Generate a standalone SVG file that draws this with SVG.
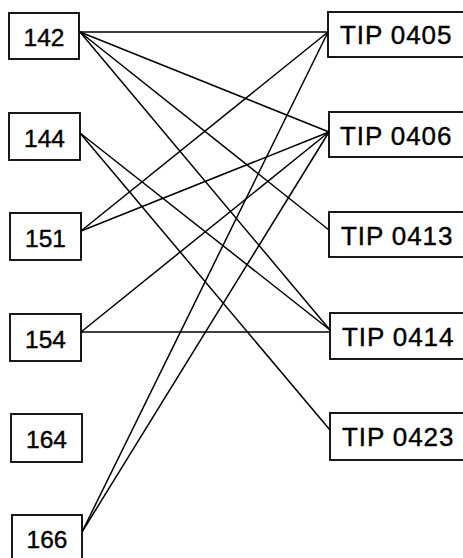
<svg xmlns="http://www.w3.org/2000/svg" width="463" height="558" viewBox="0 0 463 558">
<style>
rect{fill:#fff;stroke:#000;stroke-width:1.8}
text{font-family:"Liberation Sans",Arial,sans-serif;fill:#000;stroke:#000;stroke-width:0.4}
.l{font-size:24.5px;text-anchor:middle}
.r{font-size:26px;letter-spacing:0.9px}
#connectors line{stroke:#000;stroke-width:1.5}
</style>
<rect width="463" height="558" fill="#fff" style="stroke:none"/>
<g id="connectors">
<line x1="80" y1="32" x2="328" y2="32"/>
<line x1="80" y1="32" x2="329" y2="132"/>
<line x1="80" y1="32" x2="329" y2="230"/>
<line x1="80" y1="32" x2="330" y2="330"/>
<line x1="80" y1="133" x2="330" y2="330"/>
<line x1="80" y1="133" x2="330" y2="430"/>
<line x1="81" y1="231" x2="328" y2="32"/>
<line x1="81" y1="231" x2="329" y2="132"/>
<line x1="81" y1="332" x2="329" y2="132"/>
<line x1="81" y1="332" x2="330" y2="332"/>
<line x1="82" y1="532" x2="328" y2="32"/>
<line x1="82" y1="532" x2="329" y2="132"/>
</g>
<g id="n142"><rect x="9" y="13" width="70" height="46"/><text class="l" x="44" y="46">142</text></g>
<g id="n144"><rect x="9" y="113" width="71" height="47"/><text class="l" x="44.5" y="147">144</text></g>
<g id="n151"><rect x="10" y="213" width="71" height="47"/><text class="l" x="45.5" y="247">151</text></g>
<g id="n154"><rect x="10" y="314" width="71" height="47"/><text class="l" x="45.5" y="348">154</text></g>
<g id="n164"><rect x="11" y="414" width="71" height="48"/><text class="l" x="46.5" y="448">164</text></g>
<g id="n166"><rect x="12" y="515" width="70" height="47"/><text class="l" x="47" y="548">166</text></g>
<g id="tip0405"><rect x="328" y="12" width="140" height="45"/><text class="r" x="340" y="44">TIP 0405</text></g>
<g id="tip0406"><rect x="329" y="112" width="140" height="45"/><text class="r" x="340" y="145">TIP 0406</text></g>
<g id="tip0413"><rect x="329" y="212" width="140" height="45"/><text class="r" x="341" y="245">TIP 0413</text></g>
<g id="tip0414"><rect x="330" y="313" width="140" height="46"/><text class="r" x="342" y="346">TIP 0414</text></g>
<g id="tip0423"><rect x="330" y="413" width="140" height="47"/><text class="r" x="342" y="446">TIP 0423</text></g>
</svg>
